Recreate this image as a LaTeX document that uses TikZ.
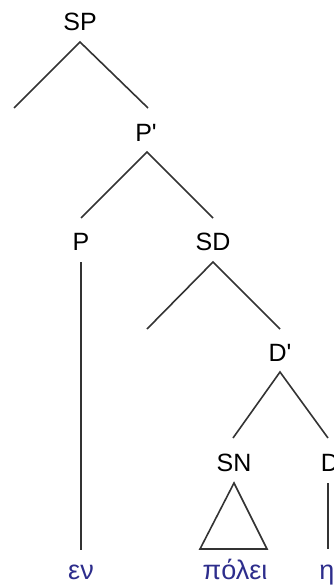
\documentclass[tikz,border=0pt]{standalone}
\usepackage{fontspec}
\newfontfamily\labfont{Liberation Sans}
\definecolor{greekblue}{RGB}{45,45,140}
\begin{document}
\begin{tikzpicture}[x=1pt,y=-1pt,
  lab/.style={font=\labfont\fontsize{25}{25}\selectfont, inner sep=0pt},
  word/.style={font=\labfont\fontsize{27}{27}\selectfont, text=greekblue, inner sep=0pt, anchor=base},
  branch/.style={line width=1.6pt, draw=black!80}]
\useasboundingbox (0,0) rectangle (334,588);
% labels
\node[lab] (SP) at (80,22) {SP};
\node[lab] (Pbar) at (146,133) {P'};
\node[lab] (P) at (81,242) {P};
\node[lab] (SD) at (213,242) {SD};
\node[lab] (Dbar) at (280,353) {D'};
\node[lab] (SN) at (234,463) {SN};
\node[lab] (D) at (330,463) {D};
\node[word] (en) at (81,579) {εν};
\node[word] (polei) at (235,579) {πόλει};
\node[word] (eta) at (327,579) {η};
% branch end points
\coordinate (SPt) at (80,42);
\coordinate (SPl) at (14,108);
\coordinate (SPr) at (148,108);
\coordinate (Pbt) at (147,152);
\coordinate (Pbl) at (81,218);
\coordinate (Pbr) at (213,218);
\coordinate (Pt) at (81,262);
\coordinate (Pb) at (81,550);
\coordinate (SDt) at (213,262);
\coordinate (SDl) at (147,329);
\coordinate (SDr) at (280,329);
\coordinate (Dbt) at (280,372);
\coordinate (Dbl) at (233,438);
\coordinate (Dbr) at (328,438);
\coordinate (SNt) at (234,483);
\coordinate (SNl) at (200,549);
\coordinate (SNr) at (267,549);
\coordinate (Dt) at (328,483);
\coordinate (Db) at (328,549);
% branches
\draw[branch] (SPl) -- (SPt) -- (SPr);
\draw[branch] (Pbl) -- (Pbt) -- (Pbr);
\draw[branch] (Pt) -- (Pb);
\draw[branch] (SDl) -- (SDt) -- (SDr);
\draw[branch] (Dbl) -- (Dbt) -- (Dbr);
\draw[branch] (SNt) -- (SNl) -- (SNr) -- cycle;
\draw[branch] (Dt) -- (Db);
\end{tikzpicture}
\end{document}
